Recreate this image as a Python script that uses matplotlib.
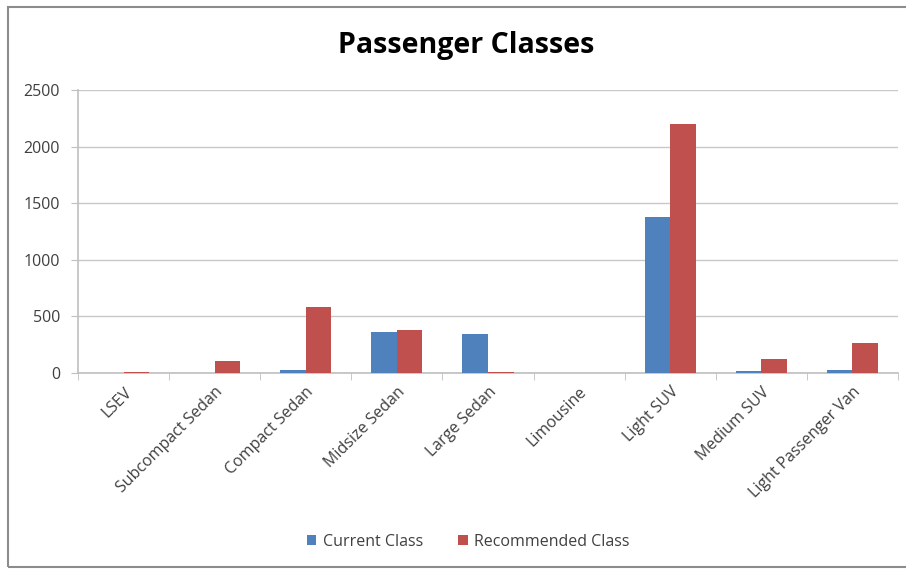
import matplotlib
matplotlib.use("Agg")
import matplotlib.pyplot as plt
import numpy as np
from matplotlib.patches import Rectangle

categories = ["LSEV", "Subcompact Sedan", "Compact Sedan", "Midsize Sedan", "Large Sedan",
              "Limousine", "Light SUV", "Medium SUV", "Light Passenger Van"]
current = [0, 0, 30, 360, 345, 0, 1380, 20, 30]
recommended = [10, 110, 580, 380, 10, 0, 2200, 120, 265]
yticks = [0, 500, 1000, 1500, 2000, 2500]

plt.rcParams['font.family'] = ['Open Sans', 'DejaVu Sans']

fig = plt.figure(figsize=(9.06, 5.70), dpi=100)
ax = fig.add_axes([78/906, (570-373)/570, (898-78)/906, (373-90)/570])

x = np.arange(len(categories))
w = 0.28
b1 = ax.bar(x - w/2, current, w, color='#4F81BD', label='Current Class', zorder=3)
b2 = ax.bar(x + w/2, recommended, w, color='#C0504D', label='Recommended Class', zorder=3)

ax.set_xlim(-0.5, len(categories) - 0.5)
ax.set_ylim(0, 2500)
ax.set_yticks(yticks)
ax.set_yticklabels([str(v) for v in yticks], fontsize=11.5, color='#404040')
ax.yaxis.grid(True, color='#C8C8C8', linewidth=1, zorder=0)
ax.set_axisbelow(True)

ax.set_xticks(x)
ax.set_xticklabels(categories, rotation=45, ha='right', rotation_mode='anchor',
                   fontsize=11.5, color='#404040')
ax.tick_params(axis='x', length=0, pad=8)
ax.tick_params(axis='y', length=5, color='#BFBFBF', pad=8)
# category separator ticks
ax.set_xticks(np.arange(-0.5, len(categories), 1.0), minor=True)
ax.tick_params(axis='x', which='minor', length=5, color='#BFBFBF')

for s in ['top', 'right']:
    ax.spines[s].set_visible(False)
for s in ['left', 'bottom']:
    ax.spines[s].set_color('#BFBFBF')
    ax.spines[s].set_linewidth(1.2)

fig.text(466/906, 1 - 46/570, "Passenger Classes", ha='center', va='center',
         fontsize=20.5, fontweight='bold', color='black')

fig.legend(handles=[b1, b2], loc='center', bbox_to_anchor=(468/906, 1 - 542/570),
           ncol=2, frameon=False, fontsize=11.5, handlelength=0.6, handleheight=0.6,
           columnspacing=2.2, handletextpad=0.4, labelcolor='#404040')

fig.patches.append(Rectangle((8/906, 3/570), 1.2, 1 - 10/570, transform=fig.transFigure,
                             fill=False, edgecolor='#8C8C8C', linewidth=1.5))

fig.savefig("out.png", dpi=100)
